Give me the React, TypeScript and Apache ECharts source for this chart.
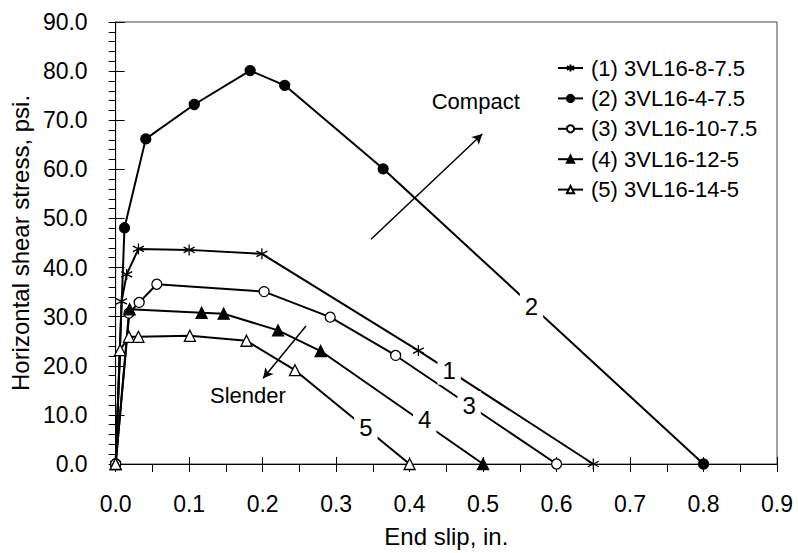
import React, { useEffect, useRef } from "react";
import * as echarts from "echarts";

const seriesNames = [
  "(1) 3VL16-8-7.5",
  "(2) 3VL16-4-7.5",
  "(3) 3VL16-10-7.5",
  "(4) 3VL16-12-5",
  "(5) 3VL16-14-5",
];

const s1 = [[0, 0], [0.008, 33.1], [0.015, 38.6], [0.031, 43.8], [0.1, 43.6], [0.199, 42.8], [0.412, 23.1], [0.65, 0]];
const s2 = [[0, 0], [0.012, 48.1], [0.041, 66.2], [0.107, 73.2], [0.183, 80.1], [0.23, 77.1], [0.364, 60.1], [0.8, 0]];
const s3 = [[0, 0], [0.018, 30.7], [0.032, 32.9], [0.056, 36.6], [0.202, 35.1], [0.292, 29.9], [0.381, 22.1], [0.6, 0]];
const s4 = [[0, 0], [0.019, 31.5], [0.117, 30.8], [0.147, 30.6], [0.221, 27.2], [0.279, 23.0], [0.5, 0]];
const s5 = [[0, 0], [0.006, 23.2], [0.018, 25.9], [0.031, 25.9], [0.101, 26.1], [0.178, 25.1], [0.244, 19.1], [0.4, 0]];

const curveLabels = [
  { name: "1", value: [0.4538, 19.0] },
  { name: "2", value: [0.5659, 32.0] },
  { name: "3", value: [0.481, 12.0] },
  { name: "4", value: [0.4206, 9.0] },
  { name: "5", value: [0.3405, 7.5] },
];

const noteLabels = [
  { name: "Compact", value: [0.49, 73.8] },
  { name: "Slender", value: [0.18, 13.9] },
];

const arrowCompact = [[0.3475, 45.75], [0.499, 67.2]];
const arrowSlender = [[0.259, 28.1], [0.2007, 17.45]];

const xTicks = { min: 0, max: 0.9, interval: 0.1 };
const yTicks = { min: 0, max: 90, interval: 10 };

const FONT = "'Liberation Sans', Arial, sans-serif";
const ASTERISK = "path://M5,0L5,10M0.67,2.5L9.33,7.5M0.67,7.5L9.33,2.5";

export default function App() {
  const ref = useRef<HTMLDivElement>(null);
  useEffect(() => {
    if (!ref.current) return;
    const chart = echarts.init(ref.current, null, { renderer: "svg" });
    const lineBase = (name: string, data: number[][], symbol: string, size: number, fill: string) => ({
      name,
      type: "line",
      data,
      symbol,
      symbolSize: size,
      showSymbol: true,
      lineStyle: { color: "#000", width: 2 },
      itemStyle: { color: fill, borderColor: "#000", borderWidth: 1.3 },
      z: 3,
    });
    const textSeries = (data: any[], fontSize: number, bg: boolean) => ({
      type: "scatter",
      data,
      symbolSize: 0,
      z: 10,
      silent: true,
      itemStyle: { opacity: 1 },
      label: {
        show: true, position: "inside", formatter: (p: any) => p.name,
        fontFamily: FONT, fontSize, color: "#000", opacity: 1,
        backgroundColor: bg ? "#fff" : "transparent", padding: bg ? [2, 5] : 0,
      },
    });
    chart.setOption({
      animation: false,
      backgroundColor: "#fff",
      textStyle: { fontFamily: FONT },
      grid: {
        left: 113, right: 21, top: 22, bottom: 89,
        show: true, borderColor: "#444", borderWidth: 1, backgroundColor: "transparent",
      },
      legend: {
        left: 552, top: 52, orient: "vertical",
        itemWidth: 25, itemHeight: 9, itemGap: 8.4,
        data: seriesNames,
        textStyle: { fontFamily: FONT, fontSize: 22, color: "#000", lineHeight: 22, padding: [0, 0, 0, 3] },
      },
      xAxis: [
        {
          type: "value", ...xTicks,
          name: "End slip, in.", nameLocation: "middle", nameGap: 60,
          nameTextStyle: { fontFamily: FONT, fontSize: 24, color: "#000" },
          axisLine: { show: true, onZero: false, lineStyle: { color: "#000", width: 1 } },
          axisTick: { show: true, inside: false, length: 8, lineStyle: { color: "#000" } },
          minorTick: { show: true, splitNumber: 2, length: 8, lineStyle: { color: "#000" } },
          axisLabel: { fontFamily: FONT, fontSize: 23, color: "#000", margin: 28, formatter: (v: number) => v.toFixed(1) },
          splitLine: { show: false },
        },
        {
          type: "value", ...xTicks, position: "bottom", gridIndex: 0,
          axisLine: { show: false },
          axisTick: { show: true, inside: true, length: 7, lineStyle: { color: "#000" } },
          axisLabel: { show: false },
          splitLine: { show: false },
        },
      ],
      yAxis: [
        {
          type: "value", ...yTicks,
          name: "Horizontal shear stress, psi.", nameLocation: "middle", nameGap: 80,
          nameTextStyle: { fontFamily: FONT, fontSize: 24, color: "#000" },
          axisLine: { show: true, onZero: false, lineStyle: { color: "#000", width: 1 } },
          axisTick: { show: true, inside: false, length: 7, lineStyle: { color: "#000" } },
          minorTick: { show: true, splitNumber: 5, length: 7, lineStyle: { color: "#000" } },
          axisLabel: { fontFamily: FONT, fontSize: 23, color: "#000", margin: 28, formatter: (v: number) => v.toFixed(1) },
          splitLine: { show: false },
        },
        {
          type: "value", ...yTicks, position: "left", gridIndex: 0,
          axisLine: { show: false },
          axisTick: { show: true, inside: true, length: 9, lineStyle: { color: "#000" } },
          axisLabel: { show: false },
          splitLine: { show: false },
        },
      ],
      series: [
        lineBase(seriesNames[0], s1, ASTERISK, 11, "#000"),
        lineBase(seriesNames[1], s2, "circle", 10, "#000"),
        lineBase(seriesNames[2], s3, "circle", 10, "#fff"),
        lineBase(seriesNames[3], s4, "triangle", 11, "#000"),
        lineBase(seriesNames[4], s5, "triangle", 11, "#fff"),
        textSeries(curveLabels, 24, true),
        {
          ...textSeries(noteLabels, 22, false),
          markLine: {
            silent: true,
            symbol: ["none", "arrow"],
            symbolSize: [8, 10],
            label: { show: false },
            lineStyle: { color: "#000", width: 1.5, type: "solid", opacity: 1 },
            data: [
              [{ coord: arrowCompact[0] }, { coord: arrowCompact[1] }],
              [{ coord: arrowSlender[0] }, { coord: arrowSlender[1] }],
            ],
          },
        },
      ],
    });
    return () => chart.dispose();
  }, []);
  return <div ref={ref} style={{ width: 798, height: 553, position: "absolute", left: 0, top: 0 }} />;
}
